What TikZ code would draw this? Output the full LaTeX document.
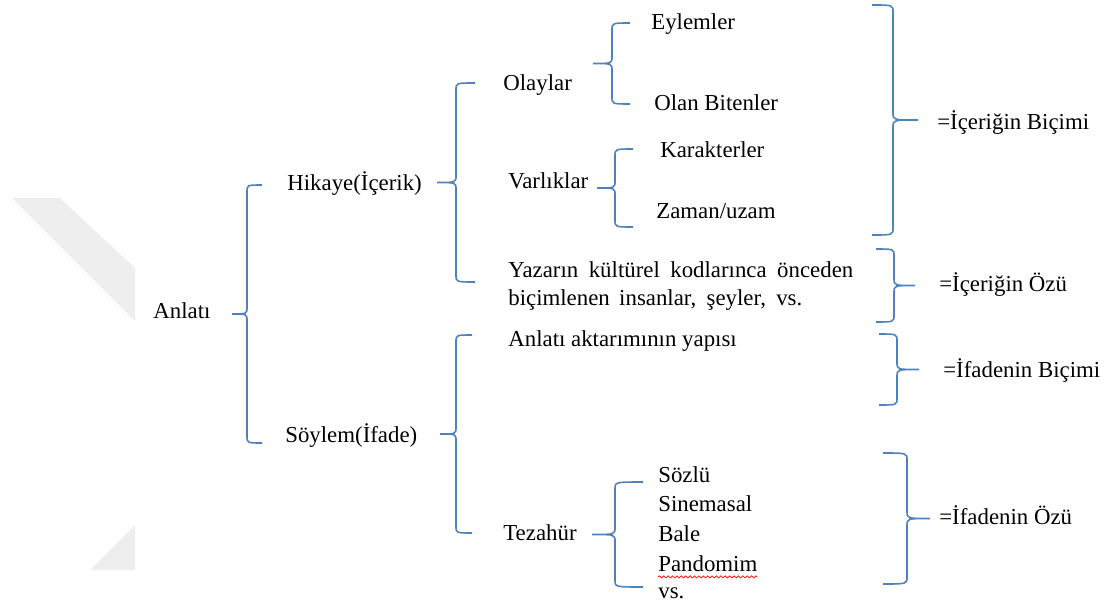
\documentclass[tikz,border=0pt]{standalone}
\usepackage{fontspec}
\setmainfont{Liberation Serif}
\usetikzlibrary{calc, decorations.pathmorphing}

\definecolor{bracecol}{RGB}{79,129,189}
\definecolor{markcol}{RGB}{238,238,238}

% curly brace: tick x, spine x, hook x, top point, bottom point
\newcommand{\brc}[5]{%
  \draw[brace] let \p1=#4, \p2=#5 in
    (#3,\y1) .. controls (#2,\y1) .. (#2,\y1-4pt)
    -- (#2,{0.5*\y1+0.5*\y2+4pt}) .. controls (#2,{0.5*\y1+0.5*\y2}) .. (#1,{0.5*\y1+0.5*\y2})
    .. controls (#2,{0.5*\y1+0.5*\y2}) .. (#2,{0.5*\y1+0.5*\y2-4pt})
    -- (#2,\y2+4pt) .. controls (#2,\y2) .. (#3,\y2);}

\begin{document}
\begin{tikzpicture}[
  x=0.02cm, y=-0.02cm,
  txt/.style={anchor=west, inner sep=0pt, text height=9pt, text depth=3pt,
              font=\fontsize{13}{16}\selectfont},
  par/.style={anchor=west, inner sep=0pt, align=left,
              font=\fontsize{13}{16}\selectfont},
  brace/.style={draw=bracecol, line width=0.9pt},
  spell/.style={draw=red, line width=0.4pt, decorate,
                decoration={snake, amplitude=0.6pt, segment length=2.5pt}}
]
\useasboundingbox (0,0) rectangle (1115,608);

% faint watermark
\fill[markcol] (12,198) -- (60,198) -- (135,268) -- (135,321) -- cycle;
\fill[markcol] (135,525) -- (135,570) -- (90,570) -- cycle;

\node[txt] (anlati) at (153,313) {Anlatı};

\node[txt] (hikaye) at (287,185) {Hikaye(İçerik)};
\node[txt] (soylem) at (285,437) {Söylem(İfade)};

\node[txt] (olay) at (503,85) {Olaylar};
\node[txt] (varlik) at (508,183) {Varlıklar};
\node[par] (yazar) at (508,286)
  {\makebox[6.9cm][s]{Yazarın kültürel kodlarınca önceden}\\
   \makebox[5.88cm][s]{biçimlenen insanlar, şeyler, vs.}};
\node[txt] (aktarim) at (508,341) {Anlatı aktarımının yapısı};
\node[txt] (tezahur) at (503,535) {Tezahür};

\node[txt] (eylem) at (651,24) {Eylemler};
\node[txt] (olan) at (654,105) {Olan Bitenler};
\node[txt] (karakter) at (660,152) {Karakterler};
\node[txt] (zaman) at (656,213) {Zaman/uzam};

\node[txt] (soz) at (658,477) {Sözlü};
\node[txt] (sine) at (658,506) {Sinemasal};
\node[txt] (bale) at (658,536) {Bale};
\node[txt] (pando) at (658,566) {Pandomim};
\node[txt] (vs) at (658,593) {vs.};
\draw[spell] (pando.south west) -- (pando.south east);

\node[txt] (icbicim) at (937,124) {=İçeriğin Biçimi};
\node[txt] (icoz) at (939,286) {=İçeriğin Özü};
\node[txt] (ifbicim) at (943,372) {=İfadenin Biçimi};
\node[txt] (ifoz) at (939,519) {=İfadenin Özü};

% left braces
\brc{232}{247}{262}{(hikaye)}{($(soylem)+(0,6)$)}
\brc{437}{456}{475}{($(olay)+(0,-2)$)}{($(yazar)+(0,-4)$)}
\brc{593}{612}{630}{($(eylem)+(0,-1)$)}{($(olan)+(0,-1)$)}
\brc{597}{615}{633}{($(karakter)+(0,-3)$)}{($(zaman)+(0,14)$)}
\brc{440}{456}{472}{($(aktarim)+(0,-6)$)}{($(tezahur)+(0,-2)$)}
\brc{592}{615}{643}{($(soz)+(0,5)$)}{($(vs)+(0,-6)$)}

% right braces
\brc{918}{893}{872}{($(eylem)+(0,-19)$)}{($(zaman)+(0,22)$)}
\brc{915}{894}{876}{($(yazar)+(0,-37)$)}{($(yazar)+(0,36)$)}
\brc{919}{897}{879}{($(aktarim)+(0,-7)$)}{($(aktarim)+(0,64)$)}
\brc{930}{907}{883}{($(soz)+(0,-24)$)}{($(vs)+(0,-9)$)}

\end{tikzpicture}
\end{document}
